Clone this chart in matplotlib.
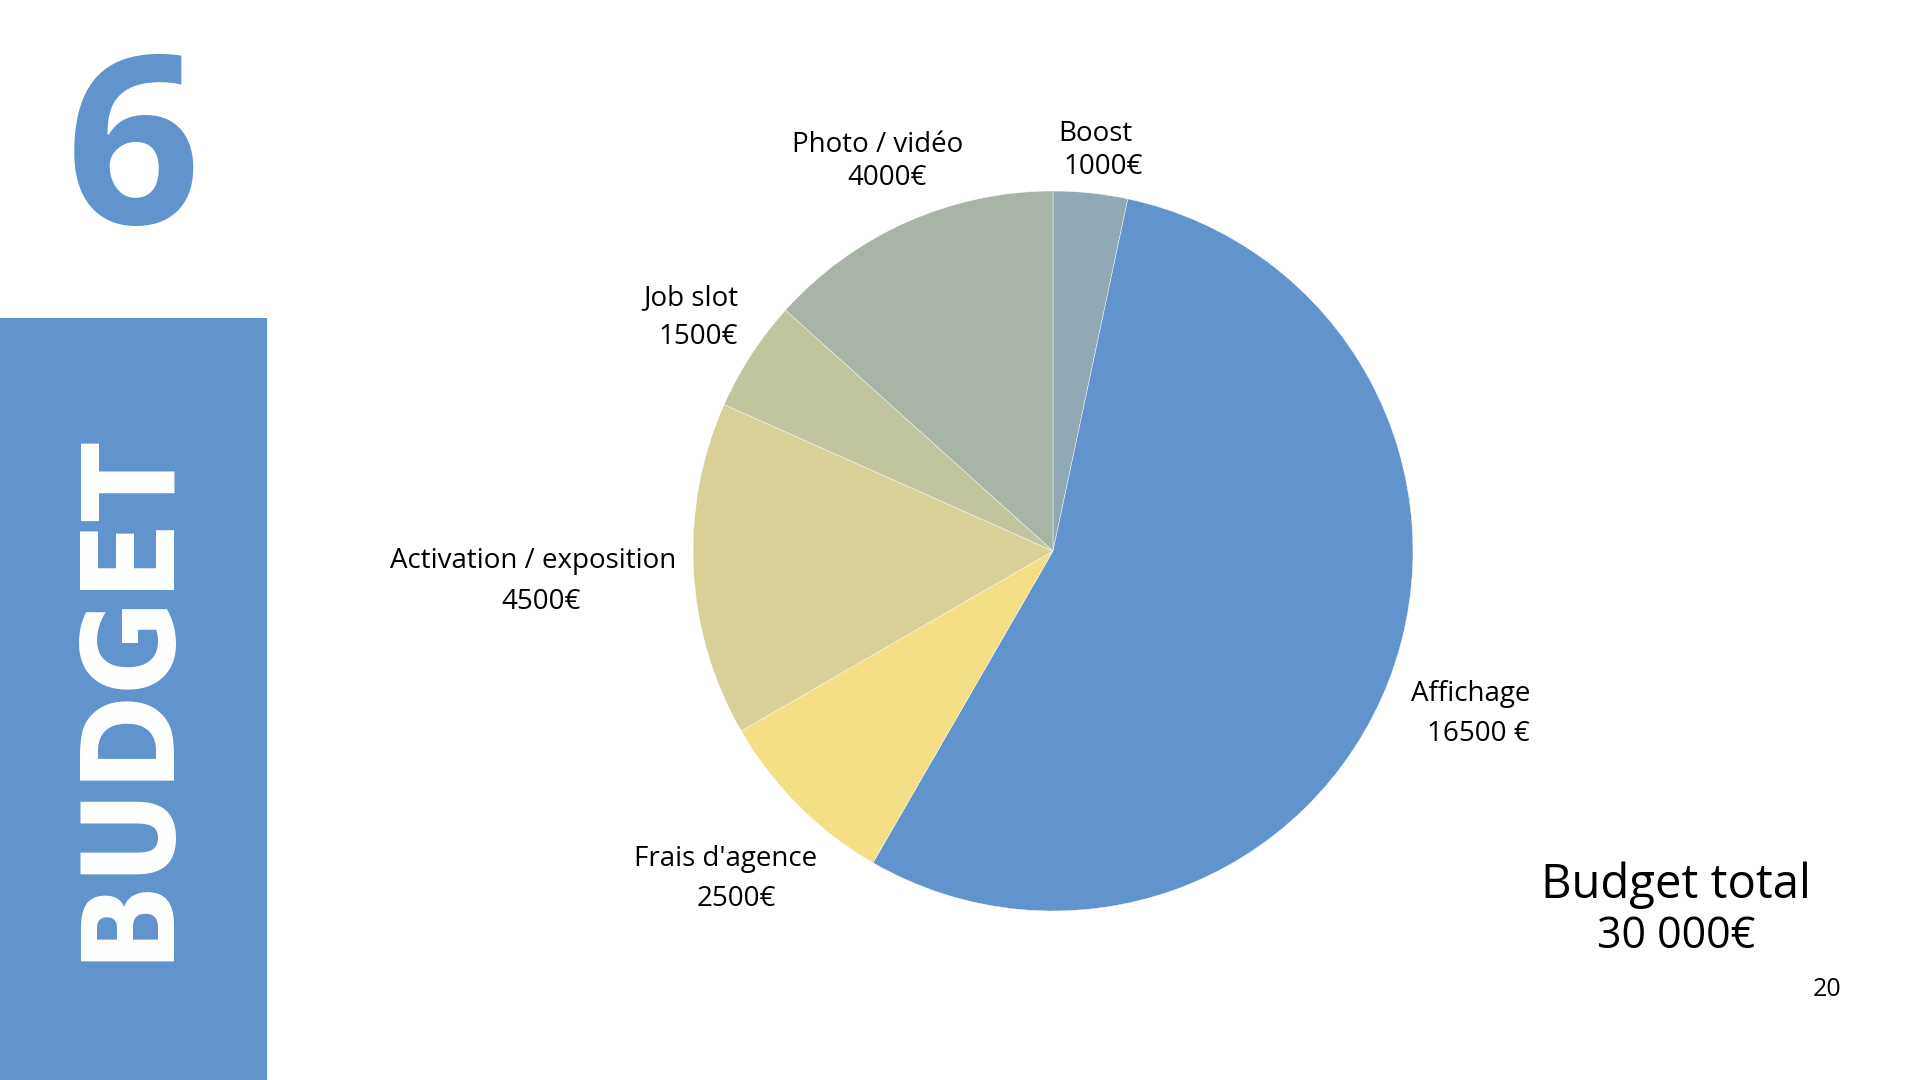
"""Budget slide: pie of the 30 000 EUR split, with the numbered side banner."""
import matplotlib

matplotlib.use("Agg")
import matplotlib.pyplot as plt  # noqa: E402
from matplotlib.patches import Rectangle  # noqa: E402

W, H = 1920, 1080

# slices, clockwise from 12 o'clock
categories = ["Boost", "Affichage", "Frais d'agence", "Activation / exposition",
              "Job slot", "Photo / vidéo"]
amounts = [1000, 16500, 2500, 4500, 1500, 4000]
amount_labels = ["1000€", "16500 €", "2500€", "4500€", "1500€", "4000€"]
colors = ["#90A9B5", "#6193CD", "#F4DF86", "#D8D096", "#C1C59E", "#A8B5A6"]

# label anchors in pixels (name line, amount line)
label_pos = [((1095, 134), (1103, 167)),
             ((1471, 694), (1478, 734)),
             ((726, 859), (736, 899)),
             ((533, 561), (541, 602)),
             ((691, 298), (698, 337)),
             ((878, 145), (887, 178))]

BLUE = "#6193CD"
plt.rcParams["font.family"] = ["Open Sans", "DejaVu Sans"]

fig = plt.figure(figsize=(W / 100, H / 100), dpi=100)
fig.patch.set_facecolor("white")


def fx(x):
    return x / W


def fy(y):
    return 1 - y / H


# left banner
fig.patches.append(Rectangle((0, 0), fx(267), 1 - 318 / H, transform=fig.transFigure,
                             facecolor=BLUE, edgecolor="none", zorder=0))
fig.text(fx(133), fy(163), "6", color=BLUE, fontsize=170, fontweight="bold",
         ha="center", va="center")
title = fig.text(fx(129), fy(696), "BUDGET", color="white", fontsize=88,
                 fontweight="bold", fontstretch="condensed", rotation=90,
                 ha="center", va="center", family=["DejaVu Sans"])
# fit the vertical word to the span it takes in the reference (~530 px)
renderer = fig.canvas.get_renderer()
span = title.get_window_extent(renderer).height
title.set_fontsize(88 * 530 / span)

# pie
cx, cy, r = 1053, 551, 360
ax = fig.add_axes([fx(cx - r), 1 - (cy + r) / H, 2 * r / W, 2 * r / H])
ax.pie(amounts, colors=colors, startangle=90, counterclock=False, radius=1,
       wedgeprops=dict(linewidth=0.3, edgecolor="white"))
ax.set_xlim(-1, 1)
ax.set_ylim(-1, 1)
ax.set_aspect("equal")
ax.axis("off")

for name, amt, (p1, p2) in zip(categories, amount_labels, label_pos):
    fig.text(fx(p1[0]), fy(p1[1]), name, fontsize=20, ha="center", va="center")
    fig.text(fx(p2[0]), fy(p2[1]), amt, fontsize=20, ha="center", va="center")

fig.text(fx(1676), fy(885), "Budget total", fontsize=34, ha="center", va="center")
fig.text(fx(1676), fy(937), "30 000€", fontsize=31, ha="center", va="center")
fig.text(fx(1827), fy(989), "20", fontsize=18, ha="center", va="center")

fig.savefig("out.png", dpi=100, facecolor="white")
